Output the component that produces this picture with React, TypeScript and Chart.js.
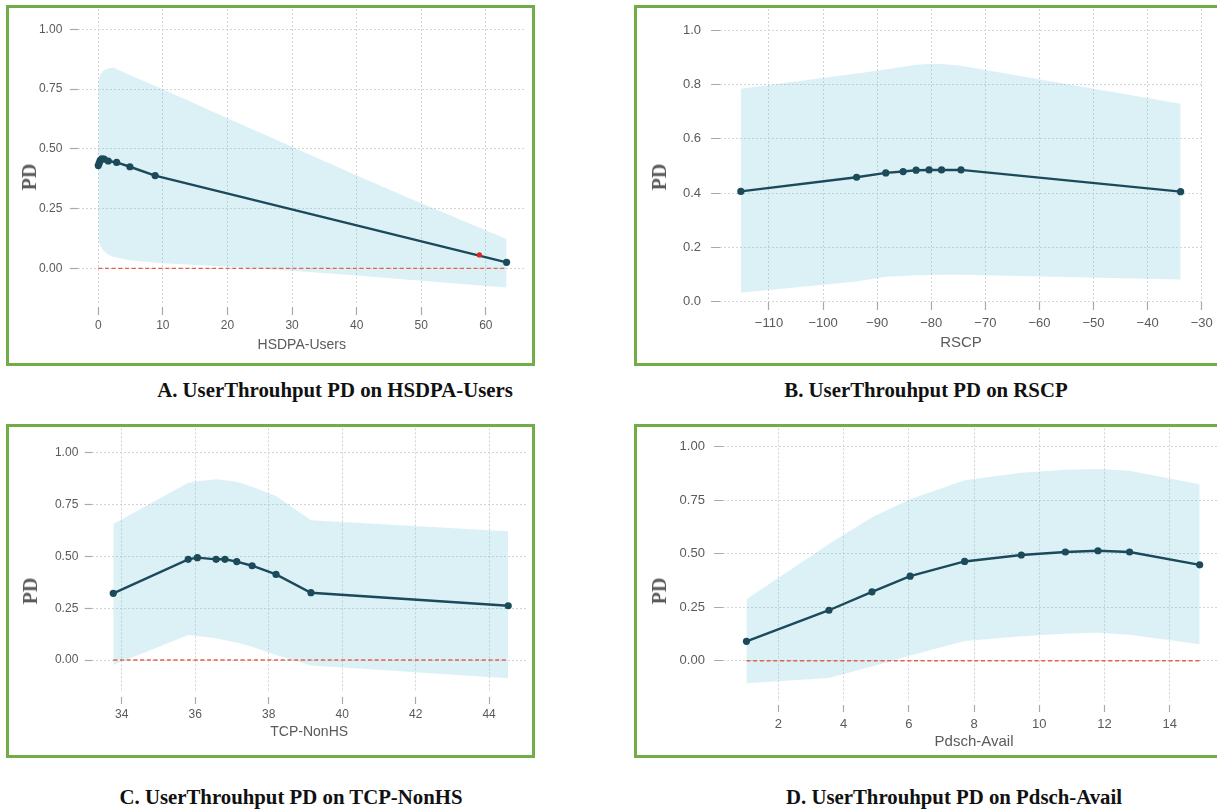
import React, { useEffect, useRef } from "react";
import { Chart, registerables } from "chart.js";

Chart.register(...registerables);

// ---------- shared tick labels ----------
const pdTicks4 = [0, 0.25, 0.5, 0.75, 1.0];
const pdTicks5 = [0, 0.2, 0.4, 0.6, 0.8, 1.0];

// ---------- A. HSDPA-Users ----------
const aX = [0, 0.15, 0.3, 0.55, 0.9, 1.55, 2.85, 4.9, 8.8, 63.2];
const aPD = [0.43, 0.44, 0.452, 0.458, 0.457, 0.449, 0.443, 0.425, 0.388, 0.025];
const aBandX = [0, 0.3, 0.8, 1.5, 2.3, 5, 10, 20, 30, 40, 50, 63.2];
const aUpper = [0.78, 0.81, 0.828, 0.836, 0.84, 0.808, 0.749, 0.628, 0.509, 0.388, 0.272, 0.123];
const aLower = [0.125, 0.095, 0.075, 0.058, 0.049, 0.033, 0.021, 0.007, -0.01, -0.03, -0.052, -0.08];
const aZeroX = [0, 63.2];
const aMarkX = [59];
const aMarkY = [0.056];
const aXTicks = [0, 10, 20, 30, 40, 50, 60];

// ---------- B. RSCP ----------
const bX = [-115.2, -93.8, -88.4, -85.2, -82.8, -80.4, -78.1, -74.5, -33.9];
const bPD = [0.406, 0.458, 0.474, 0.479, 0.484, 0.485, 0.485, 0.485, 0.405];
const bUpper = [0.784, 0.84, 0.855, 0.865, 0.872, 0.875, 0.875, 0.868, 0.729];
const bLower = [0.033, 0.074, 0.092, 0.095, 0.097, 0.098, 0.099, 0.099, 0.082];
const bXTicks = [-110, -100, -90, -80, -70, -60, -50, -40, -30];

// ---------- C. TCP-NonHS ----------
const cX = [33.77, 35.81, 36.06, 36.57, 36.81, 37.13, 37.55, 38.2, 39.15, 44.52];
const cPD = [0.322, 0.486, 0.494, 0.486, 0.486, 0.475, 0.455, 0.413, 0.325, 0.262];
const cUpper = [0.656, 0.855, 0.863, 0.872, 0.868, 0.86, 0.836, 0.791, 0.675, 0.622];
const cLower = [-0.024, 0.121, 0.116, 0.105, 0.096, 0.085, 0.064, 0.024, -0.026, -0.088];
const cZeroX = [33.77, 44.52];
const cXTicks = [34, 36, 38, 40, 42, 44];

// ---------- D. Pdsch-Avail ----------
const dX = [1.02, 3.55, 4.87, 6.04, 7.71, 9.45, 10.8, 11.8, 12.77, 14.92];
const dPD = [0.091, 0.236, 0.322, 0.395, 0.464, 0.494, 0.508, 0.514, 0.508, 0.448];
const dUpper = [0.287, 0.545, 0.671, 0.754, 0.843, 0.878, 0.892, 0.896, 0.888, 0.825];
const dLower = [-0.105, -0.081, -0.027, 0.024, 0.092, 0.114, 0.126, 0.131, 0.121, 0.077];
const dZeroX = [1.02, 14.92];
const dXTicks = [2, 4, 6, 8, 10, 12, 14];

// ---------- styles ----------
const lineColor = "#1b4a5a";
const bandColor = "rgba(102,194,215,0.23)";
const zeroColor = "#e5604b";
const gridColor = "#d4d4d4";
const tickColor = "#a9a9a9";
const labelColor = "#5a5a5a";
const borderGreen = "#70ad47";
const sans = "'Liberation Sans', Arial, Helvetica, sans-serif";
const serif = "'Liberation Serif', 'Times New Roman', Times, serif";

const fmtX = (v: number) => (v < 0 ? "\u2212" + Math.abs(v) : String(v));

type Rect = { left: number; top: number; width: number; height: number };
type PanelCfg = {
  box: Rect;
  canvas: Rect;
  area: { left: number; right: number; top: number; bottom: number };
  xMin: number; xMax: number; yMin: number; yMax: number;
  xTicks: number[]; yTicks: number[]; yDecimals: number;
  xTitle: string; titleSize: number; tickSize: number; xTitlePadBottom: number;
  xTick: { gap: number; len: number; pad: number };
  yTick: { gap: number; len: number; pad: number };
  pd: { x: number; y: number };
  lineX: number[]; lineY: number[];
  bandX: number[]; upper: number[]; lower: number[];
  zeroX: number[] | null;
  markX?: number[]; markY?: number[];
};

const panels: PanelCfg[] = [
  {
    box: { left: 6, top: 5, width: 529, height: 361 },
    canvas: { left: 9, top: 8, width: 523, height: 355 },
    area: { left: 77.9, right: 525.6, top: 9, bottom: 303 },
    xMin: -3.15, xMax: 66.15, yMin: -0.145, yMax: 1.085,
    xTicks: aXTicks, yTicks: pdTicks4, yDecimals: 2,
    xTitle: "HSDPA-Users", titleSize: 14, tickSize: 12, xTitlePadBottom: 9.6,
    xTick: { gap: 4, len: 8, pad: 3.5 }, yTick: { gap: 0, len: 8, pad: 7.6 },
    pd: { x: 29.2, y: 177 },
    lineX: aX, lineY: aPD, bandX: aBandX, upper: aUpper, lower: aLower,
    zeroX: aZeroX, markX: aMarkX, markY: aMarkY,
  },
  {
    box: { left: 634, top: 5, width: 600, height: 361 },
    canvas: { left: 637, top: 8, width: 580, height: 355 },
    area: { left: 720, right: 1202, top: 9, bottom: 302 },
    xMin: -119.05, xMax: -29.95, yMin: -0.0011, yMax: 1.0773,
    xTicks: bXTicks, yTicks: pdTicks5, yDecimals: 1,
    xTitle: "RSCP", titleSize: 15, tickSize: 13, xTitlePadBottom: 10.7,
    xTick: { gap: 0, len: 8, pad: 5.5 }, yTick: { gap: 2, len: 9, pad: 8 },
    pd: { x: 659, y: 176.7 },
    lineX: bX, lineY: bPD, bandX: bX, upper: bUpper, lower: bLower,
    zeroX: null,
  },
  {
    box: { left: 6, top: 424, width: 529, height: 334 },
    canvas: { left: 9, top: 427, width: 523, height: 328 },
    area: { left: 91.7, right: 526.7, top: 428.3, bottom: 692 },
    xMin: 33.183, xMax: 45.023, yMin: -0.154, yMax: 1.118,
    xTicks: cXTicks, yTicks: pdTicks4, yDecimals: 2,
    xTitle: "TCP-NonHS", titleSize: 14, tickSize: 12, xTitlePadBottom: 14.9,
    xTick: { gap: 5, len: 7, pad: 3 }, yTick: { gap: 0, len: 7, pad: 6.4 },
    pd: { x: 29.5, y: 590.8 },
    lineX: cX, lineY: cPD, bandX: cX, upper: cUpper, lower: cLower,
    zeroX: cZeroX,
  },
  {
    box: { left: 634, top: 424, width: 600, height: 334 },
    canvas: { left: 637, top: 427, width: 595, height: 328 },
    area: { left: 723, right: 1225.1, top: 428.3, bottom: 701 },
    xMin: 0.3, xMax: 15.7, yMin: -0.188, yMax: 1.086,
    xTicks: dXTicks, yTicks: pdTicks4, yDecimals: 2,
    xTitle: "Pdsch-Avail", titleSize: 15, tickSize: 13, xTitlePadBottom: 4.3,
    xTick: { gap: 4, len: 7, pad: 4.6 }, yTick: { gap: 1, len: 9, pad: 8.1 },
    pd: { x: 659, y: 590.8 },
    lineX: dX, lineY: dPD, bandX: dX, upper: dUpper, lower: dLower,
    zeroX: dZeroX,
  },
];

const captions = [
  { text: "A. UserThrouhput PD on HSDPA-Users", x: 335, y: 389 },
  { text: "B. UserThrouhput PD on RSCP", x: 926, y: 389 },
  { text: "C. UserThrouhput PD on TCP-NonHS", x: 291, y: 796.5 },
  { text: "D. UserThrouhput PD on Pdsch-Avail", x: 954, y: 796.5 },
];

function Panel({ p }: { p: PanelCfg }) {
  const ref = useRef<HTMLCanvasElement>(null);
  useEffect(() => {
    if (!ref.current) return;
    const c = p.canvas;
    const a = p.area;
    const yAxisWidth = a.left - c.left;
    const padTop = a.top - c.top;
    const padRight = c.left + c.width - a.right;
    const xAxisHeight = c.top + c.height - a.bottom;
    const pts = (xs: number[], ys: number[]) => xs.map((x, i) => ({ x, y: ys[i] }));
    const datasets: any[] = [];
    if (p.markX && p.markY) {
      datasets.push({
        data: pts(p.markX, p.markY), showLine: false, pointRadius: 2.6,
        pointBackgroundColor: "#e3241b", pointBorderColor: "#e3241b", pointBorderWidth: 0,
        borderColor: "#e3241b",
      });
    }
    datasets.push({
      data: pts(p.lineX, p.lineY), borderColor: lineColor, borderWidth: 2.4,
      pointRadius: 3.6, pointBackgroundColor: lineColor, pointBorderColor: lineColor,
      pointBorderWidth: 0, tension: 0, fill: false,
    });
    if (p.zeroX) {
      datasets.push({
        data: p.zeroX.map((x) => ({ x, y: 0 })), borderColor: zeroColor, borderWidth: 1.4,
        borderDash: [4, 2.7], pointRadius: 0, fill: false,
      });
    }
    datasets.push({
      data: pts(p.bandX, p.upper), borderColor: "rgba(0,0,0,0)", borderWidth: 1,
      pointRadius: 0, fill: "+1", backgroundColor: bandColor, tension: 0,
    });
    datasets.push({
      data: pts(p.bandX, p.lower), borderColor: "rgba(0,0,0,0)", borderWidth: 1,
      pointRadius: 0, fill: false, tension: 0,
    });

    const tickDash = (t: { gap: number; len: number }) => (t.gap > 0 ? [0, t.gap, t.len, 200] : []);

    const chart = new Chart(ref.current, {
      type: "line",
      data: { datasets },
      options: {
        responsive: false,
        animation: false,
        devicePixelRatio: 1,
        events: [],
        layout: { autoPadding: false, padding: { top: padTop, right: padRight, bottom: 0, left: 0 } },
        plugins: { legend: { display: false }, tooltip: { enabled: false } },
        scales: {
          x: {
            type: "linear",
            min: p.xMin,
            max: p.xMax,
            afterBuildTicks: (s: any) => { s.ticks = p.xTicks.map((v) => ({ value: v })); },
            afterFit: (s: any) => { s.height = xAxisHeight; s.paddingLeft = 0; s.paddingRight = 0; },
            ticks: {
              color: labelColor, font: { family: sans, size: p.tickSize }, padding: p.xTick.pad,
              maxRotation: 0, autoSkip: false, callback: (v: any) => fmtX(Number(v)),
            },
            grid: {
              color: gridColor, lineWidth: 1, drawTicks: true, tickLength: p.xTick.gap + p.xTick.len,
              tickColor, tickWidth: 1.2, tickBorderDash: tickDash(p.xTick),
            },
            border: { display: false, dash: [2, 2] },
            title: {
              display: true, text: p.xTitle, color: labelColor,
              font: { family: sans, size: p.titleSize }, padding: { top: 0, bottom: p.xTitlePadBottom },
            },
          },
          y: {
            type: "linear",
            min: p.yMin,
            max: p.yMax,
            afterBuildTicks: (s: any) => { s.ticks = p.yTicks.map((v) => ({ value: v })); },
            afterFit: (s: any) => { s.width = yAxisWidth; s.paddingTop = 0; s.paddingBottom = 0; },
            ticks: {
              color: labelColor, font: { family: sans, size: p.tickSize }, padding: p.yTick.pad,
              autoSkip: false, callback: (v: any) => Number(v).toFixed(p.yDecimals),
            },
            grid: {
              color: gridColor, lineWidth: 1, drawTicks: true, tickLength: p.yTick.gap + p.yTick.len,
              tickColor, tickWidth: 1.2, tickBorderDash: tickDash(p.yTick),
            },
            border: { display: false, dash: [2, 2] },
            title: { display: false },
          },
        },
      } as any,
    });
    return () => chart.destroy();
  }, [p]);

  return (
    <>
      <div
        style={{
          position: "absolute", left: p.box.left, top: p.box.top, width: p.box.width, height: p.box.height,
          border: `3px solid ${borderGreen}`, boxSizing: "border-box",
        }}
      />
      <canvas
        ref={ref}
        width={p.canvas.width}
        height={p.canvas.height}
        style={{ position: "absolute", left: p.canvas.left, top: p.canvas.top, width: p.canvas.width, height: p.canvas.height }}
      />
      <div
        style={{
          position: "absolute", left: p.pd.x, top: p.pd.y, transform: "translate(-50%, -50%) rotate(-90deg)",
          font: `bold 20px ${serif}`, lineHeight: "20px", color: labelColor, whiteSpace: "nowrap",
        }}
      >
        PD
      </div>
    </>
  );
}

export default function App() {
  return (
    <div
      style={{
        position: "absolute", left: 0, top: 0, width: 1217, height: 810, overflow: "hidden", background: "#ffffff",
      }}
    >
      {panels.map((p, i) => (
        <Panel key={i} p={p} />
      ))}
      {captions.map((c, i) => (
        <div
          key={i}
          style={{
            position: "absolute", left: c.x, top: c.y - 10.5, transform: "translateX(-50%)",
            font: `bold 20.8px ${serif}`, lineHeight: "21px", color: "#111", whiteSpace: "nowrap",
          }}
        >
          {c.text}
        </div>
      ))}
    </div>
  );
}
